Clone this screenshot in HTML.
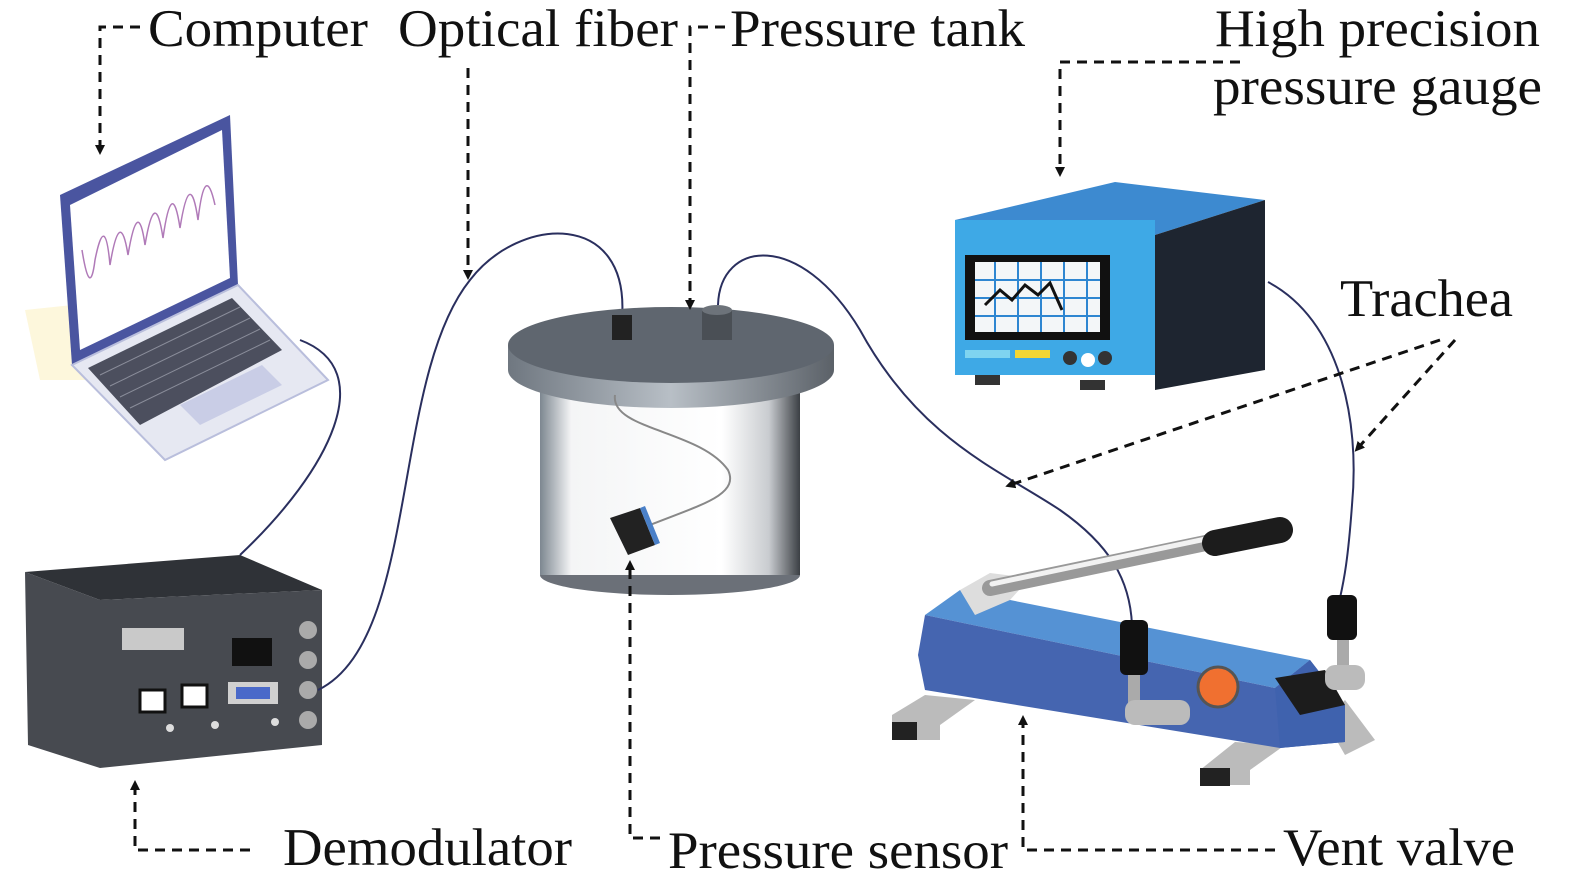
<!DOCTYPE html>
<html><head><meta charset="utf-8"><style>
html,body{margin:0;padding:0;background:#fff;}
svg{display:block;}
text{font-family:"Liberation Serif",serif;font-size:53px;fill:#111;}
</style></head><body>
<svg width="1575" height="888" viewBox="0 0 1575 888" xmlns="http://www.w3.org/2000/svg">
<defs>
<marker id="ar" markerWidth="10" markerHeight="10" refX="5" refY="5" orient="auto" markerUnits="userSpaceOnUse"><path d="M0,0 L10,5 L0,10 z" fill="#111"/></marker>
<linearGradient id="cyl" x1="0" x2="1"><stop offset="0" stop-color="#7d8790"/><stop offset="0.12" stop-color="#f4f5f6"/><stop offset="0.7" stop-color="#fff"/><stop offset="0.88" stop-color="#c9ccd0"/><stop offset="1" stop-color="#3b3f44"/></linearGradient>
<linearGradient id="lid" x1="0" x2="1"><stop offset="0" stop-color="#6f7780"/><stop offset="0.5" stop-color="#b8bfc6"/><stop offset="1" stop-color="#5b6168"/></linearGradient>
</defs>

<!-- Laptop -->
<polygon points="25,310 120,300 120,380 40,380" fill="#fdf7dc"/>
<polygon points="60,195 230,115 238,285 72,365" fill="#4a55a0"/>
<polygon points="70,205 222,130 230,278 80,350" fill="#fff"/>
<path d="M82,250 Q90,300 95,260 Q105,210 110,265 Q120,205 128,255 Q138,195 145,245 Q155,185 163,238 Q172,175 180,228 Q190,165 198,220 Q205,160 215,205" fill="none" stroke="#b07ab8" stroke-width="1.5"/>
<polygon points="72,365 238,285 328,380 165,460" fill="#e6e8f2" stroke="#b9bedc" stroke-width="2"/>
<polygon points="88,368 232,298 282,350 140,425" fill="#4c4f5e"/>
<g stroke="#8a8d9a" stroke-width="1"><path d="M100,375 L240,307 M110,386 L250,318 M120,397 L260,329 M130,408 L270,340"/></g>
<polygon points="180,405 262,365 282,385 200,425" fill="#c9cde6"/>

<!-- Demodulator -->
<polygon points="25,572 240,555 322,590 100,600" fill="#2f3237"/>
<polygon points="25,572 100,600 322,590 322,745 100,768 28,745" fill="#474a50"/>
<rect x="122" y="628" width="62" height="22" fill="#c9c9c9"/>
<rect x="232" y="638" width="40" height="28" fill="#111"/>
<rect x="140" y="690" width="25" height="22" fill="#fff" stroke="#111" stroke-width="3"/>
<rect x="182" y="685" width="25" height="22" fill="#fff" stroke="#111" stroke-width="3"/>
<rect x="228" y="682" width="50" height="22" fill="#d0d0d0"/><rect x="236" y="687" width="34" height="12" fill="#4a69c9"/>
<circle cx="308" cy="630" r="9" fill="#aaa"/><circle cx="308" cy="660" r="9" fill="#aaa"/><circle cx="308" cy="690" r="9" fill="#aaa"/><circle cx="308" cy="720" r="9" fill="#aaa"/>
<circle cx="170" cy="728" r="4" fill="#ddd"/><circle cx="215" cy="725" r="4" fill="#ddd"/><circle cx="275" cy="722" r="4" fill="#ddd"/>

<!-- fibers -->
<g fill="none" stroke="#2a2f5e" stroke-width="2">
<path d="M300,340 C380,370 330,470 240,555"/>
<path d="M318,690 C420,640 390,380 470,280 C520,215 630,210 622,318"/>
<path d="M718,305 C720,240 800,230 860,330 C920,440 1000,470 1060,510 C1110,545 1130,580 1132,625"/>
<path d="M1268,282 C1340,320 1360,420 1352,505 C1348,560 1344,580 1340,598"/>
</g>

<!-- Tank -->
<rect x="540" y="360" width="260" height="215" fill="url(#cyl)"/>
<ellipse cx="670" cy="575" rx="130" ry="20" fill="#6b7078"/>
<rect x="540" y="555" width="260" height="20" fill="url(#cyl)"/>
<path d="M508,345 L508,370 A163,38 0 0 0 834,370 L834,345 Z" fill="url(#lid)"/>
<ellipse cx="671" cy="345" rx="163" ry="38" fill="#5f666f"/>
<rect x="612" y="315" width="20" height="25" fill="#222"/>
<rect x="702" y="310" width="30" height="30" fill="#4a4f55"/><ellipse cx="717" cy="310" rx="15" ry="5" fill="#6d737a"/>
<path d="M615,395 C610,430 700,430 728,470 C740,495 700,505 650,525" fill="none" stroke="#888" stroke-width="2"/>
<polygon points="610,518 640,508 655,545 628,555" fill="#222"/><polygon points="640,508 655,545 660,543 645,506" fill="#4a80c8"/>

<!-- Gauge -->
<polygon points="955,220 1115,182 1265,200 1155,235" fill="#3d8ad0"/>
<polygon points="1155,235 1265,200 1265,370 1155,390" fill="#1e2530"/>
<rect x="955" y="220" width="200" height="155" fill="#3ea9e6"/>
<rect x="965" y="255" width="145" height="85" fill="#111"/>
<rect x="975" y="262" width="125" height="70" fill="#f3f6f8"/>
<g stroke="#2e86d1" stroke-width="2"><path d="M975,280 H1100 M975,298 H1100 M975,316 H1100 M995,262 V332 M1018,262 V332 M1041,262 V332 M1064,262 V332 M1087,262 V332"/></g>
<path d="M985,305 L1000,290 L1012,300 L1025,285 L1038,295 L1050,283 L1062,310" fill="none" stroke="#111" stroke-width="3"/>
<rect x="965" y="350" width="45" height="8" fill="#7fd4f0"/><rect x="1015" y="350" width="35" height="8" fill="#f3d634"/>
<circle cx="1070" cy="358" r="7" fill="#333"/><circle cx="1088" cy="360" r="7" fill="#fff"/><circle cx="1105" cy="358" r="7" fill="#333"/>
<rect x="975" y="375" width="25" height="10" fill="#333"/><rect x="1080" y="380" width="25" height="10" fill="#333"/>

<!-- Pump -->
<polygon points="892,715 925,695 975,700 940,725 940,740 892,740" fill="#bbb"/>
<rect x="892" y="722" width="25" height="18" fill="#222"/>
<polygon points="1200,770 1235,742 1285,745 1250,770 1250,785 1200,785" fill="#bbb"/>
<rect x="1200" y="768" width="30" height="18" fill="#222"/>
<polygon points="1325,720 1345,700 1375,740 1345,755" fill="#bbb"/>
<polygon points="925,615 960,590 1310,660 1275,688" fill="#5592d4"/>
<polygon points="918,655 925,615 1275,688 1310,660 1345,705 1345,742 1280,748 925,690" fill="#4565b0"/>
<polygon points="1275,688 1310,660 1345,705 1345,742 1280,748" fill="#3f62ae"/>
<polygon points="1275,678 1325,670 1345,705 1300,715" fill="#1c1c1c"/>
<circle cx="1218" cy="687" r="20" fill="#f07030" stroke="#555" stroke-width="3"/>
<polygon points="960,590 990,573 1030,578 1010,600 975,615" fill="#ddd"/>
<path d="M990,588 L1220,540" stroke="#999" stroke-width="16" stroke-linecap="round"/>
<path d="M992,584 L1220,536" stroke="#f2f2f2" stroke-width="5" stroke-linecap="round"/>
<path d="M1215,543 L1280,530" stroke="#1c1c1c" stroke-width="26" stroke-linecap="round"/>
<rect x="1128" y="655" width="12" height="50" fill="#aaa"/><rect x="1125" y="700" width="65" height="25" rx="10" fill="#bbb"/>
<rect x="1120" y="620" width="28" height="55" rx="6" fill="#111"/>
<rect x="1337" y="630" width="12" height="50" fill="#aaa"/><rect x="1325" y="665" width="40" height="25" rx="10" fill="#bbb"/>
<rect x="1327" y="595" width="30" height="45" rx="6" fill="#111"/>

<!-- dashed leaders -->
<g fill="none" stroke="#111" stroke-width="3" stroke-dasharray="10,7">
<path d="M140,27 H100 V150" marker-end="url(#ar)"/>
<path d="M468,68 V275" marker-end="url(#ar)"/>
<path d="M725,27 H690 V305" marker-end="url(#ar)"/>
<path d="M1240,62 H1060 V172" marker-end="url(#ar)"/>
<path d="M250,850 H135 V785" marker-end="url(#ar)"/>
<path d="M660,838 H630 V565" marker-end="url(#ar)"/>
<path d="M1275,850 H1023 V720" marker-end="url(#ar)"/>
<path d="M1440,340 L1010,485" marker-end="url(#ar)"/>
<path d="M1455,340 L1358,448" marker-end="url(#ar)"/>
</g>

<!-- labels -->
<text x="148" y="46" textLength="220" lengthAdjust="spacingAndGlyphs">Computer</text>
<text x="398" y="46" textLength="280" lengthAdjust="spacingAndGlyphs">Optical fiber</text>
<text x="730" y="46" textLength="295" lengthAdjust="spacingAndGlyphs">Pressure tank</text>
<text x="1215" y="46" textLength="325" lengthAdjust="spacingAndGlyphs">High precision</text>
<text x="1213" y="104" textLength="329" lengthAdjust="spacingAndGlyphs">pressure gauge</text>
<text x="1340" y="316" textLength="173" lengthAdjust="spacingAndGlyphs">Trachea</text>
<text x="283" y="865" textLength="289" lengthAdjust="spacingAndGlyphs">Demodulator</text>
<text x="668" y="868" textLength="340" lengthAdjust="spacingAndGlyphs">Pressure sensor</text>
<text x="1283" y="865" textLength="232" lengthAdjust="spacingAndGlyphs">Vent valve</text>
</svg>
</body></html>
